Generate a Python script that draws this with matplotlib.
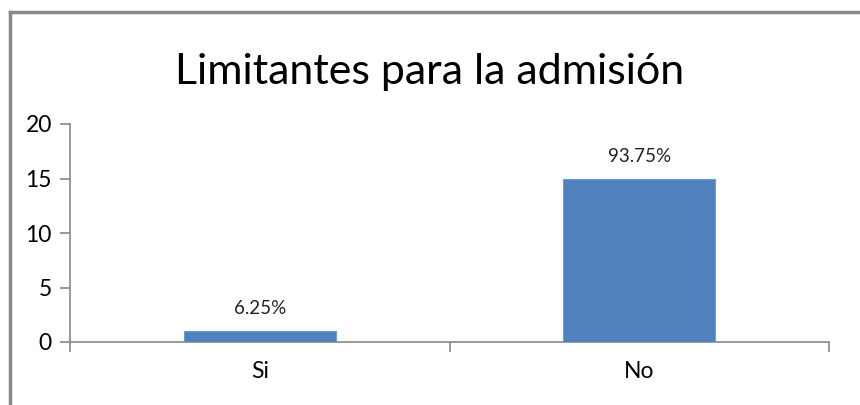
import matplotlib
matplotlib.use("Agg")
import matplotlib.pyplot as plt
from matplotlib.lines import Line2D

categories = ["Si", "No"]
values = [1, 15]
labels = ["6.25%", "93.75%"]
yticks = [0, 5, 10, 15, 20]

plt.rcParams['font.family'] = ['Lato', 'DejaVu Sans']

W, H = 860, 405
fig = plt.figure(figsize=(W/100, H/100), dpi=100)
ax = fig.add_axes([70/W, 1-342/H, (829-70)/W, (342-124)/H])

bar_color = "#4F81BD"
x = list(range(len(categories)))
ax.bar(x, values, width=0.4, color=bar_color, edgecolor="#6F9BD0", linewidth=0.8, zorder=3)
for xi, v, lab in zip(x, values, labels):
    ax.annotate(lab, (xi, v), xytext=(0, 10), textcoords="offset points",
                ha="center", va="bottom", fontsize=13.5, color="#222222")

ax.set_xlim(-0.5, 1.5)
ax.set_ylim(0, 20)
ax.set_yticks(yticks)
ax.set_yticklabels([str(t) for t in yticks], fontsize=16.5)
ax.set_xticks(x)
ax.set_xticklabels(categories, fontsize=16.5)
ax.tick_params(axis='x', length=0, pad=14)
ax.tick_params(axis='y', length=7, color="#888888", width=1.2, pad=6)
# category boundary ticks
ax.set_xticks([-0.5, 0.5, 1.5], minor=True)
ax.tick_params(axis='x', which='minor', length=7, color="#888888", width=1.2, direction='out')

for s in ["top", "right"]:
    ax.spines[s].set_visible(False)
for s in ["left", "bottom"]:
    ax.spines[s].set_color("#888888")
    ax.spines[s].set_linewidth(1.2)

fig.text(430/W, 1-72/H, "Limitantes para la admisión", ha="center", va="center",
         fontsize=31, color="#000000")

# chart border
fig.add_artist(Line2D([9.5/W, 1.0], [1-12/H, 1-12/H], transform=fig.transFigure,
                      color="#888888", linewidth=2.5))
fig.add_artist(Line2D([9.5/W, 9.5/W], [1-12/H, 0], transform=fig.transFigure,
                      color="#888888", linewidth=2.5))

fig.savefig("out.png", dpi=100)
